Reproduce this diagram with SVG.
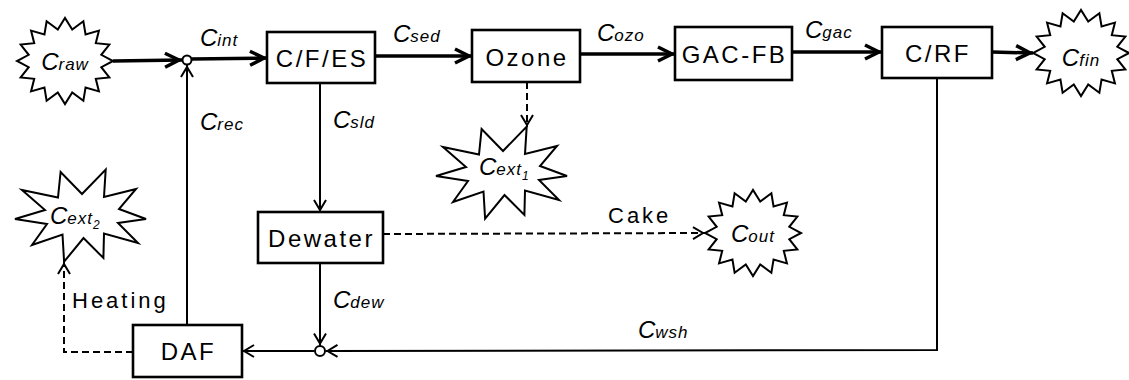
<svg xmlns="http://www.w3.org/2000/svg" xmlns:xlink="http://www.w3.org/1999/xlink" width="1129" height="380" viewBox="0 0 1129 380">
<style>
.box{fill:#fff;stroke:#000;stroke-width:2.6}
.bt{font-family:"Liberation Sans",Arial,sans-serif;font-size:24px;letter-spacing:2.5px;text-anchor:middle;fill:#000}
.pl{font-family:"Liberation Sans",Arial,sans-serif;font-size:22px;letter-spacing:3px;fill:#000}
.lb{font-family:"Liberation Sans",Arial,sans-serif;font-style:italic;font-size:24px;fill:#000}
.sb{font-size:17px;letter-spacing:1px}
.sn{font-size:12px}
.burst{fill:#fff;stroke:#000;stroke-width:2;stroke-linejoin:miter}
.thick{stroke:#000;stroke-width:3.5;fill:none}
.thin{stroke:#000;stroke-width:2;fill:none}
.dash{stroke:#000;stroke-width:2;fill:none;stroke-dasharray:7 4}
.jn{fill:#fff;stroke:#000;stroke-width:2}
</style>
<defs>
<marker id="ab" markerUnits="userSpaceOnUse" markerWidth="24" markerHeight="24" refX="18" refY="8" orient="auto" overflow="visible">
<path d="M1,1 L15,8 L1,15" fill="none" stroke="#000" stroke-width="3.5"/>
</marker>
<marker id="at" markerUnits="userSpaceOnUse" markerWidth="20" markerHeight="20" refX="13" refY="7" orient="auto" overflow="visible">
<path d="M1,1 L11,7 L1,13" fill="none" stroke="#000" stroke-width="2"/>
</marker>
<polygon id="sburst" class="burst" points="48,0 36.29,6.24 44.35,16.46 30.77,17.78 33.94,30.41 20.56,26.61 18.37,39.73 7.22,31.39 0,43 -7.22,31.39 -18.37,39.73 -20.56,26.61 -33.94,30.41 -30.77,17.78 -44.35,16.46 -36.29,6.24 -48,0 -36.29,-6.24 -44.35,-16.46 -30.77,-17.78 -33.94,-30.41 -20.56,-26.61 -18.37,-39.73 -7.22,-31.39 0,-43 7.22,-31.39 18.37,-39.73 20.56,-26.61 33.94,-30.41 30.77,-17.78 44.35,-16.46 36.29,-6.24"/>
<polygon id="bburst" class="burst" points="-60,-25 -24,-17.5 -21.4,-43 0,-21 23.7,-45.4 22,-18 54,-26 37,-6 64,4 36,8 56,28 22,18.5 21.4,43 1.5,23 -17.9,46.7 -19.5,19.5 -50,30 -35,9 -67,4 -37,-5"/>
</defs>

<g id="connectors">
<path class="thick" d="M113,61 L182,60" marker-end="url(#ab)"/>
<path class="thick" d="M191.5,59 L267,58" marker-end="url(#ab)"/>
<path class="thick" d="M375,56 L472,56" marker-end="url(#ab)"/>
<path class="thick" d="M580,54 L675,54" marker-end="url(#ab)"/>
<path class="thick" d="M792,52 L882,52" marker-end="url(#ab)"/>
<path class="thick" d="M992,52 L1033,53" marker-end="url(#ab)"/>
<path class="thin" d="M320,83 L320,212" marker-end="url(#at)"/>
<path class="thin" d="M320,263 L320,345.5" marker-end="url(#at)"/>
<path class="thin" d="M937,78 L937,350 L325.5,351" marker-end="url(#at)"/>
<path class="thin" d="M314.5,351 L242,351" marker-end="url(#at)"/>
<path class="thin" d="M187,325 L187,65" marker-end="url(#at)"/>
<path class="dash" d="M133,352 L64,352 L64,262" marker-end="url(#at)"/>
<path class="dash" d="M527,82 L527,127" marker-end="url(#at)"/>
<path class="dash" d="M383,234 L705,233" marker-end="url(#at)"/>
<circle class="jn" cx="187" cy="60" r="4.5"/>
<circle class="jn" cx="320" cy="351" r="5"/>
<text class="lb" x="200" y="46">C<tspan class="sb">int</tspan></text>
<text class="lb" x="200" y="130">C<tspan class="sb">rec</tspan></text>
<text class="lb" x="393" y="42">C<tspan class="sb">sed</tspan></text>
<text class="lb" x="333" y="128">C<tspan class="sb">sld</tspan></text>
<text class="lb" x="597" y="41">C<tspan class="sb">ozo</tspan></text>
<text class="lb" x="805" y="38">C<tspan class="sb">gac</tspan></text>
<text class="lb" x="333" y="308">C<tspan class="sb">dew</tspan></text>
<text class="lb" x="638" y="338">C<tspan class="sb">wsh</tspan></text>
<text class="pl" x="608" y="223">Cake</text>
<text class="pl" x="72" y="308">Heating</text>
</g>

<g id="craw">
<use href="#sburst" x="65" y="61"/>
<text class="lb" x="65" y="70" text-anchor="middle" font-size="22">C<tspan class="sb">raw</tspan></text>
</g>
<g id="cfes">
<rect class="box" x="267" y="32" width="108" height="51"/>
<text class="bt" x="322" y="67">C/F/ES</text>
</g>
<g id="ozone">
<rect class="box" x="472" y="30" width="108" height="52"/>
<text class="bt" x="527" y="66">Ozone</text>
</g>
<g id="gacfb">
<rect class="box" x="675" y="27" width="117" height="53"/>
<text class="bt" x="734.5" y="63">GAC-FB</text>
</g>
<g id="crf">
<rect class="box" x="882" y="27" width="110" height="51"/>
<text class="bt" x="938" y="62">C/RF</text>
</g>
<g id="cfin">
<use href="#sburst" x="1081" y="53"/>
<text class="lb" x="1081" y="66" text-anchor="middle" font-size="22">C<tspan class="sb">fin</tspan></text>
</g>
<g id="cext1">
<use href="#bburst" x="503" y="172"/>
<text class="lb" x="479" y="175" font-size="22">C<tspan class="sb">ext</tspan><tspan class="sn" dy="5">1</tspan></text>
</g>
<g id="dewater">
<rect class="box" x="258" y="212" width="125" height="51"/>
<text class="bt" x="321.5" y="247">Dewater</text>
</g>
<g id="cout">
<use href="#sburst" x="753" y="233"/>
<text class="lb" x="753" y="242" text-anchor="middle" font-size="22">C<tspan class="sb">out</tspan></text>
</g>
<g id="cext2">
<use href="#bburst" x="82" y="215"/>
<text class="lb" x="50" y="224" font-size="22">C<tspan class="sb">ext</tspan><tspan class="sn" dy="5">2</tspan></text>
</g>
<g id="daf">
<rect class="box" x="133" y="325" width="109" height="52"/>
<text class="bt" x="188.5" y="360">DAF</text>
</g>
</svg>
